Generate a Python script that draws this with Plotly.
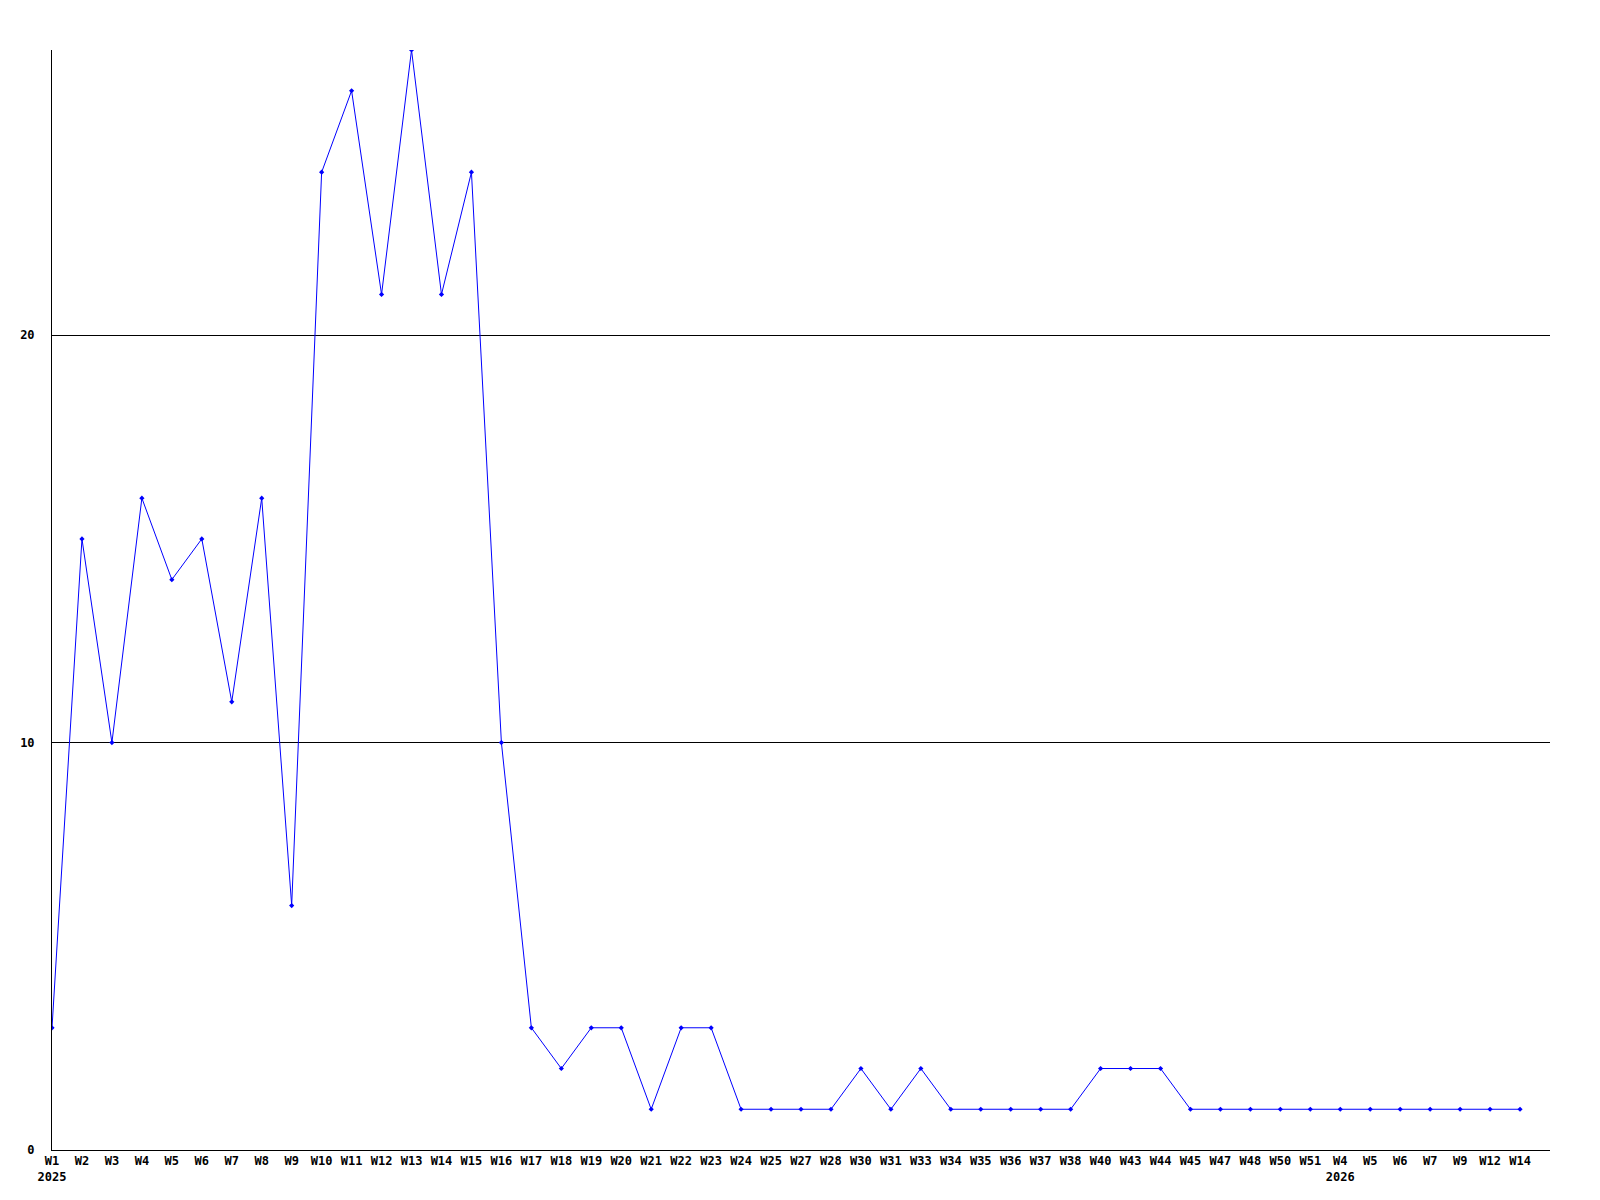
import plotly.graph_objects as go

# недели (подписи оси X) и значения
weeks = ["W1", "W2", "W3", "W4", "W5", "W6", "W7", "W8", "W9", "W10",
         "W11", "W12", "W13", "W14", "W15", "W16", "W17", "W18", "W19", "W20",
         "W21", "W22", "W23", "W24", "W25", "W27", "W28", "W30", "W31", "W33",
         "W34", "W35", "W36", "W37", "W38", "W40", "W43", "W44", "W45", "W47",
         "W48", "W50", "W51", "W4", "W5", "W6", "W7", "W9", "W12", "W14"]
values = [3, 15, 10, 16, 14, 15, 11, 16, 6, 24,
          26, 21, 27, 21, 24, 10, 3, 2, 3, 3,
          1, 3, 3, 1, 1, 1, 1, 2, 1, 2,
          1, 1, 1, 1, 1, 2, 2, 2, 1, 1,
          1, 1, 1, 1, 1, 1, 1, 1, 1, 1]
# год ставится под первой неделей года
years = {0: "2025", 43: "2026"}

y_ticks = [0, 10, 20]

positions = list(range(len(weeks)))
tick_text = [w + ("<br>" + years[i] if i in years else "") for i, w in enumerate(weeks)]

fig = go.Figure()
fig.add_trace(go.Scatter(
    x=positions,
    y=values,
    mode='lines+markers',
    line=dict(color='#0000ff', width=1),
    marker=dict(color='#0000ff', size=4, symbol='diamond'),
    showlegend=False,
))

# страница имеет отступ 8px, поэтому поля смещены
fig.update_layout(
    width=1600,
    height=1200,
    margin=dict(l=42, r=58, t=42, b=58),
    paper_bgcolor='white',
    plot_bgcolor='white',
    font=dict(family='DejaVu Sans Mono', size=12, color='black', weight='bold'),
)

fig.update_xaxes(
    range=[0, len(weeks)],
    tickmode='array',
    tickvals=positions,
    ticktext=tick_text,
    showgrid=False,
    zeroline=False,
    showline=True,
    linecolor='black',
    linewidth=1,
    ticks='',
)

fig.update_yaxes(
    range=[0, max(values)],
    tickmode='array',
    tickvals=y_ticks,
    showgrid=True,
    gridcolor='black',
    gridwidth=1,
    zeroline=False,
    showline=True,
    linecolor='black',
    linewidth=1,
    ticks='outside',
    ticklen=14,
    tickcolor='white',
)

fig.write_html("out.html")
